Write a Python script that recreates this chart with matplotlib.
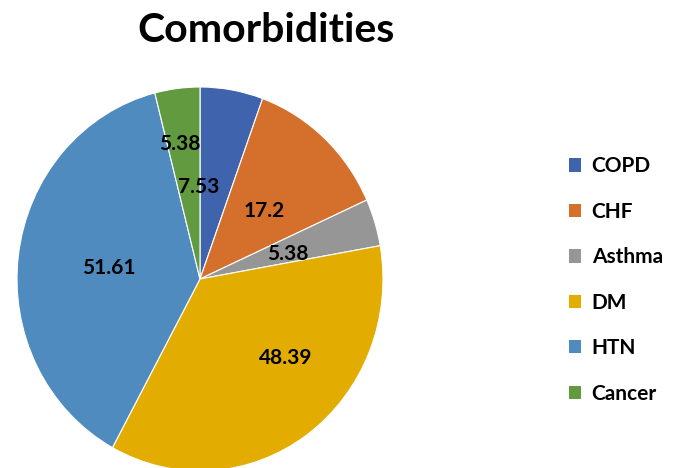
import numpy as np
import matplotlib
matplotlib.use("Agg")
import matplotlib.pyplot as plt
from matplotlib.patches import Patch

# --- Data ---
categories = ['COPD', 'CHF', 'Asthma', 'DM', 'HTN', 'Cancer']
values = [7.53, 17.2, 5.38, 48.39, 51.61, 5.38]
value_labels = ['7.53', '17.2', '5.38', '48.39', '51.61', '5.38']
colors = ['#3F64AD', '#D4702C', '#969696', '#E2AC00', '#508BBF', '#629A3F']

# label placement (radial distance, angle nudge in degrees), Excel "best fit"-ish
label_dist = [0.48, 0.50, 0.50, 0.62, 0.50, 0.71]
label_nudge = [11, -2, -2, 13, 0.6, 1.7]

plt.rcParams['font.family'] = ['Lato', 'DejaVu Sans']

W, H = 678, 468
fig = plt.figure(figsize=(W / 100, H / 100), dpi=100)
ax = fig.add_axes([17 / W, -3 / H, 366 / W, 384 / H])

wedges, _ = ax.pie(values, colors=colors, startangle=90, counterclock=False,
                   wedgeprops=dict(linewidth=0.8, edgecolor='white'))
ax.set_aspect('auto')
ax.set_xlim(-1, 1)
ax.set_ylim(-1, 1)

for w, lab, d, nd in zip(wedges, value_labels, label_dist, label_nudge):
    ang = np.deg2rad((w.theta1 + w.theta2) / 2 + nd)
    ax.text(d * np.cos(ang), d * np.sin(ang), lab, ha='center', va='center',
            fontsize=15, fontweight='bold', color='black')

fig.text(266 / W, 1 - 30 / H, 'Comorbidities', ha='center', va='center',
         fontsize=29.5, fontweight='bold')

handles = [Patch(facecolor=c, edgecolor='none') for c in colors]
fig.legend(handles, categories, loc='center left', bbox_to_anchor=(550 / W, 1 - 280 / H),
           frameon=False, prop={'weight': 'bold', 'size': 15},
           handlelength=0.6, handleheight=0.6, handletextpad=0.5, labelspacing=1.22)

fig.savefig('out.png', dpi=100)
